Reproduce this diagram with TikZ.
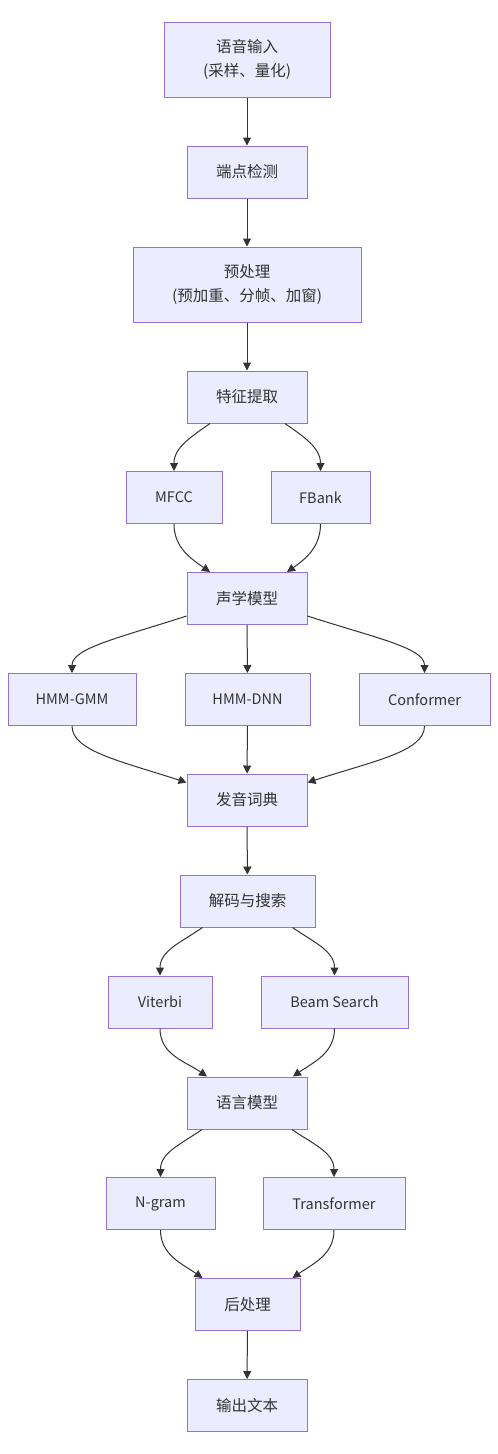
\documentclass[tikz,border=0pt]{standalone}
\usepackage{fontspec}
\setmainfont{Noto Sans CJK SC}
\usetikzlibrary{arrows.meta}
\definecolor{nfill}{HTML}{ECECFF}
\definecolor{nline}{HTML}{9370DB}
\definecolor{ntext}{HTML}{333333}
\begin{document}
\begin{tikzpicture}[x=1pt,y=-1pt,
  box/.style={draw=nline,fill=nfill,line width=1pt,text=ntext,inner sep=0pt,font=\fontsize{15.5}{24}\selectfont,align=center,minimum height=52pt},
  lat/.style={font=\fontsize{14.5}{20}\selectfont},
  arr/.style={draw=ntext,line width=1pt,-{Triangle[length=8pt,width=8pt]}}]
\useasboundingbox[fill=white] (0,0) rectangle (498,1454);
\node[box,minimum width=166pt,minimum height=75pt] (in) at (247,59.5) {语音输入\\(采样、量化)};
\node[box,minimum width=120pt] (ep) at (247,172) {端点检测};
\node[box,minimum width=228pt,minimum height=75pt] (pre) at (247,284.5) {预处理\\(预加重、分帧、加窗)};
\node[box,minimum width=120pt] (feat) at (247,397) {特征提取};
\node[box,lat,minimum width=96pt] (mfcc) at (174,497.5) {MFCC};
\node[box,lat,minimum width=99pt] (fb) at (320.5,497.5) {FBank};
\node[box,minimum width=120pt] (ac) at (247,598.5) {声学模型};
\node[box,lat,minimum width=128pt] (gmm) at (72,699.5) {HMM-GMM};
\node[box,lat,minimum width=125pt] (dnn) at (247.5,699.5) {HMM-DNN};
\node[box,lat,minimum width=131pt] (conf) at (424.5,699.5) {Conformer};
\node[box,minimum width=120pt] (lex) at (247,800) {发音词典};
\node[box,minimum width=135pt] (dec) at (247.5,901) {解码与搜索};
\node[box,lat,minimum width=104pt] (vit) at (160,1002) {Viterbi};
\node[box,lat,minimum width=147pt] (beam) at (334.5,1002) {Beam Search};
\node[box,minimum width=120pt] (lm) at (247,1103) {语言模型};
\node[box,lat,minimum width=109pt] (ngram) at (160.5,1203.5) {N-gram};
\node[box,lat,minimum width=142pt] (trans) at (334,1203.5) {Transformer};
\node[box,minimum width=105pt] (post) at (247.5,1304.5) {后处理};
\node[box,minimum width=120pt] (out) at (247,1405.5) {输出文本};

\draw[arr] (in) -- (ep);
\draw[arr] (ep) -- (pre);
\draw[arr] (pre) -- (feat);
\draw[arr] ([xshift=-37pt]feat.south) to[out=-145,in=90] (mfcc.north);
\draw[arr] ([xshift=38pt]feat.south) to[out=-35,in=90] (fb.north);
\draw[arr] (mfcc.south) to[out=-90,in=145] ([xshift=-37pt]ac.north);
\draw[arr] (fb.south) to[out=-90,in=35] ([xshift=40pt]ac.north);
\draw[arr] ([yshift=9pt]ac.south west) to[out=-162,in=90,out looseness=1.4,in looseness=0.5] (gmm.north);
\draw[arr] (ac) -- (dnn);
\draw[arr] ([yshift=9pt]ac.south east) to[out=-18,in=90,out looseness=1.4,in looseness=0.5] (conf.north);
\draw[arr] (gmm.south) to[out=-90,in=162,out looseness=0.5,in looseness=1.4] ([yshift=-9pt]lex.north west);
\draw[arr] (dnn) -- (lex);
\draw[arr] (conf.south) to[out=-90,in=18,out looseness=0.5,in looseness=1.4] ([yshift=-9pt]lex.north east);
\draw[arr] (lex) -- (dec);
\draw[arr] ([xshift=-45pt]dec.south) to[out=-145,in=90] (vit.north);
\draw[arr] ([xshift=45pt]dec.south) to[out=-35,in=90] (beam.north);
\draw[arr] (vit.south) to[out=-90,in=145] ([xshift=-40pt]lm.north);
\draw[arr] (beam.south) to[out=-90,in=35] ([xshift=46pt]lm.north);
\draw[arr] ([xshift=-45pt]lm.south) to[out=-145,in=90] (ngram.north);
\draw[arr] ([xshift=45pt]lm.south) to[out=-35,in=90] (trans.north);
\draw[arr] (ngram.south) to[out=-90,in=145] ([xshift=-45pt]post.north);
\draw[arr] (trans.south) to[out=-90,in=35] ([xshift=45pt]post.north);
\draw[arr] (post) -- (out);
\end{tikzpicture}
\end{document}
